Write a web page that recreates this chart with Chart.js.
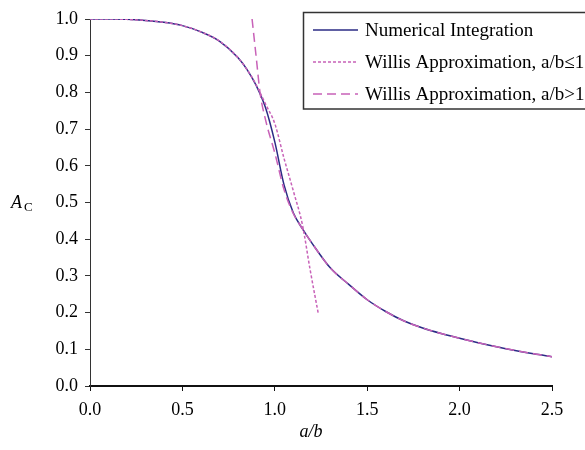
<!DOCTYPE html>
<html>
<head>
<meta charset="utf-8">
<script src="https://cdn.jsdelivr.net/npm/chart.js@4"></script>
<style>
  html, body { margin: 0; padding: 0; background: #fff; }
  #wrap { width: 585px; height: 450px; }
</style>
</head>
<body>
<div id="wrap"><canvas id="chart" width="585" height="450"></canvas></div>
<script>
// Valores (a/b no eixo x, A_C no eixo y)
const numX = [0, 0.1, 0.2, 0.3, 0.4, 0.5, 0.6, 0.7, 0.8, 0.85, 0.9, 0.95, 1.0, 1.05, 1.1, 1.15, 1.2, 1.3, 1.4, 1.5, 1.6, 1.7, 1.8, 1.9, 2.0, 2.1, 2.2, 2.3, 2.4, 2.5];
const numY = [1.0, 1.0, 0.999, 0.996, 0.991, 0.982, 0.965, 0.94, 0.895, 0.862, 0.818, 0.758, 0.665, 0.548, 0.472, 0.428, 0.39, 0.322, 0.277, 0.235, 0.203, 0.177, 0.158, 0.143, 0.13, 0.118, 0.107, 0.097, 0.088, 0.08];

// Willis, a/b <= 1
const lowX = [0, 0.1, 0.2, 0.3, 0.4, 0.5, 0.6, 0.7, 0.8, 0.85, 0.9, 0.95, 1.0, 1.05, 1.1, 1.15, 1.19, 1.235];
const lowY = [1.0, 1.0, 0.999, 0.996, 0.991, 0.982, 0.965, 0.94, 0.895, 0.862, 0.82, 0.768, 0.715, 0.62, 0.532, 0.438, 0.32, 0.198];

// Willis, a/b > 1
const highX = [0.877, 0.9, 0.92, 0.95, 1.0, 1.05, 1.1, 1.15, 1.2, 1.3, 1.4, 1.5, 1.6, 1.7, 1.8, 1.9, 2.0, 2.1, 2.2, 2.3, 2.4, 2.5];
const highY = [1.0, 0.893, 0.8, 0.725, 0.635, 0.535, 0.47, 0.428, 0.39, 0.322, 0.277, 0.235, 0.203, 0.177, 0.158, 0.143, 0.13, 0.118, 0.107, 0.097, 0.088, 0.08];

const seriesNames = ['Numerical Integration', 'Willis Approximation, a/b\u22641', 'Willis Approximation, a/b>1'];

const navy = '#2b2b85';
const pink = '#c862b8';
const serif = '"Liberation Serif", "DejaVu Serif", serif';

function pts(xs, ys) {
    return xs.map((x, i) => ({ x: x, y: ys[i] }));
}

// legenda desenhada dentro da área do gráfico, como no original
const legendBox = {
    id: 'legendBox',
    afterDraw(chart) {
        const c = chart.ctx;
        c.save();
        c.fillStyle = '#fff';
        c.fillRect(303, 12, 290, 97);
        c.strokeStyle = '#333';
        c.lineWidth = 1.5;
        c.strokeRect(303.5, 12.5, 300, 96.5);
        const rows = [30, 62, 94];
        const styles = [[], [3, 2], [9, 5]];
        const cols = [navy, pink, pink];
        rows.forEach((y, i) => {
            c.beginPath();
            c.setLineDash(styles[i]);
            c.strokeStyle = cols[i];
            c.lineWidth = 1.5;
            c.moveTo(313, y);
            c.lineTo(358, y);
            c.stroke();
            c.setLineDash([]);
            c.fillStyle = '#000';
            c.font = '19px ' + serif;
            c.textBaseline = 'middle';
            c.textAlign = 'left';
            c.fillText(seriesNames[i], 365, y + 1);
        });
        // títulos dos eixos
        c.font = 'italic 18px ' + serif;
        c.textAlign = 'center';
        c.fillText('a/b', 311, 432);
        c.textAlign = 'left';
        c.fillText('A', 11, 203);
        c.font = '13px ' + serif;
        c.fillText('C', 24, 208);
        c.restore();
    }
};

const ctx = document.getElementById('chart').getContext('2d');
const chart = new Chart(ctx, {
    type: 'line',
    data: {
        datasets: [
            {
                label: seriesNames[0],
                data: pts(numX, numY),
                borderColor: navy,
                borderWidth: 1.5,
                pointRadius: 0,
                order: 3,
                cubicInterpolationMode: 'monotone'
            },
            {
                label: seriesNames[1],
                data: pts(lowX, lowY),
                borderColor: pink,
                borderWidth: 1.5,
                borderDash: [3, 2],
                pointRadius: 0,
                order: 2,
                cubicInterpolationMode: 'monotone'
            },
            {
                label: seriesNames[2],
                data: pts(highX, highY),
                borderColor: pink,
                borderWidth: 1.5,
                borderDash: [9, 5],
                pointRadius: 0,
                order: 1,
                cubicInterpolationMode: 'monotone'
            }
        ]
    },
    options: {
        responsive: false,
        animation: false,
        layout: { padding: { top: 19, right: 33, left: 0, bottom: 0 } },
        plugins: {
            legend: { display: false },
            tooltip: { enabled: false }
        },
        scales: {
            x: {
                type: 'linear',
                min: 0,
                max: 2.5,
                border: { color: '#111', width: 2 },
                grid: { drawOnChartArea: false, tickLength: 5, color: '#111' },
                ticks: {
                    stepSize: 0.5,
                    padding: 8,
                    color: '#000',
                    font: { family: serif, size: 18 },
                    callback: v => v.toFixed(1)
                },
                afterFit(scale) { scale.height = 64; }
            },
            y: {
                min: 0,
                max: 1,
                border: { color: '#333', width: 1 },
                grid: { drawOnChartArea: false, tickLength: 5, color: '#333' },
                ticks: {
                    stepSize: 0.1,
                    padding: 7,
                    color: '#000',
                    font: { family: serif, size: 18 },
                    callback: v => v.toFixed(1)
                },
                afterFit(scale) { scale.width = 90; }
            }
        }
    },
    plugins: [legendBox]
});
</script>
</body>
</html>
